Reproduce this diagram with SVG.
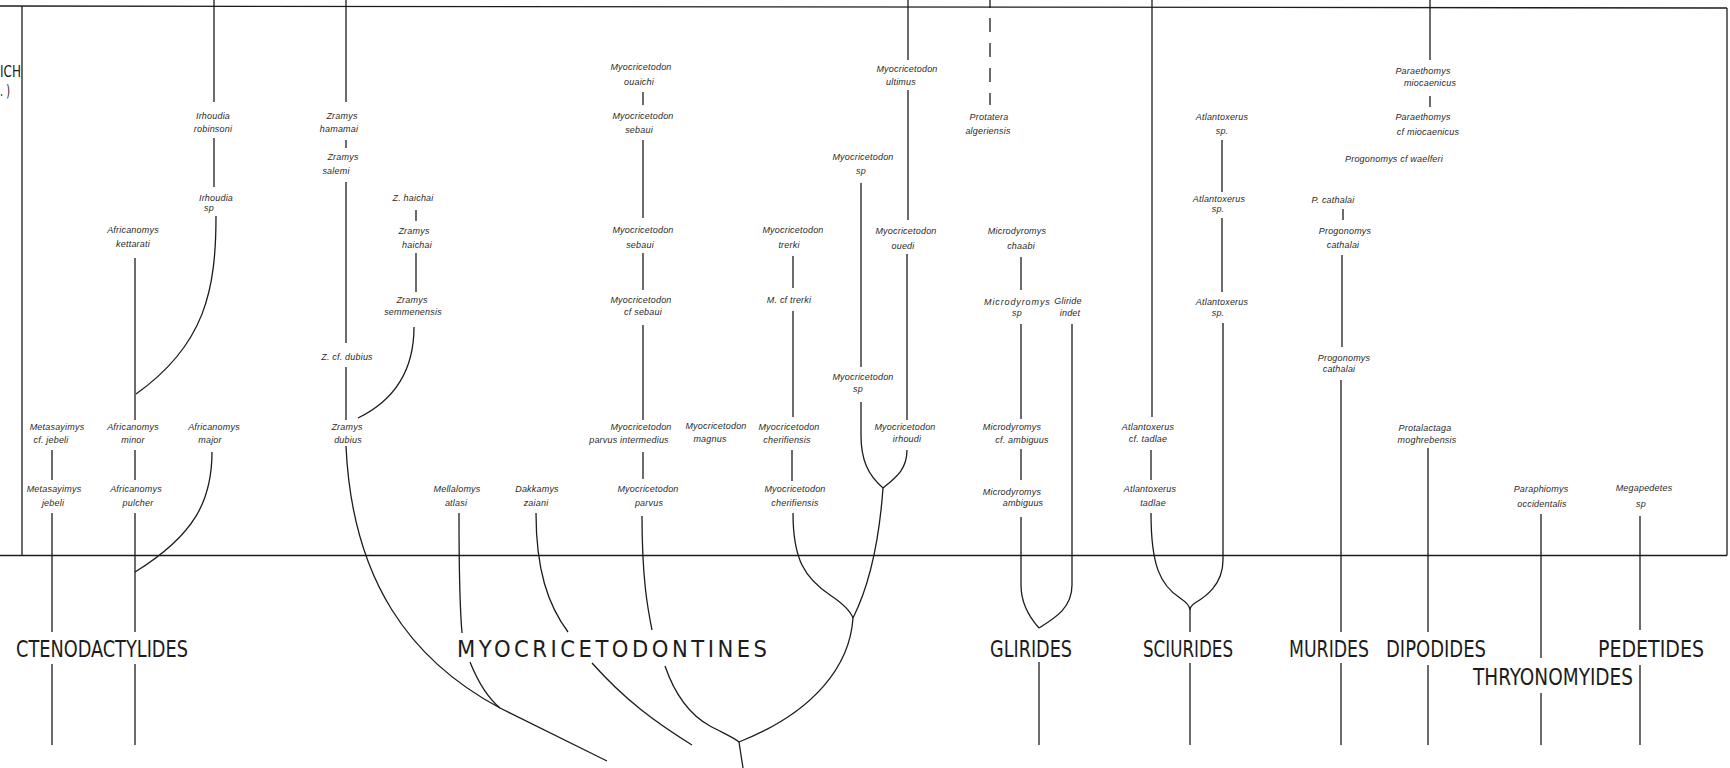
<svg xmlns="http://www.w3.org/2000/svg" width="1730" height="768" viewBox="0 0 1730 768">
<style>
.ln{fill:none;stroke:#1c1c1c;stroke-width:1.3;stroke-linecap:butt}
.dash{stroke-dasharray:14 11}
.sp{font-family:'Liberation Sans',Arial,sans-serif;font-style:italic;font-size:9px;fill:#2a2a2a;text-anchor:middle;letter-spacing:0.2px}
.fam{font-family:'Liberation Sans Narrow','DejaVu Sans Condensed','Liberation Sans',sans-serif;font-size:23.5px;fill:#1c1c1c}
.hd{font-family:'Liberation Sans Narrow','DejaVu Sans Condensed','Liberation Sans',sans-serif;font-size:15px;fill:#1c1c1c}
</style>
<rect width="1730" height="768" fill="#fff"/>
<g id="frame" class="ln">
<path d="M0,6 L1727,8"/>
<path d="M1727,8 V555.5"/>
<path d="M0,555.5 H1727"/>
<path d="M22,6 V555.5"/>
</g>
<g id="header">
<text class="hd" x="0" y="77" textLength="21" lengthAdjust="spacingAndGlyphs">ICH</text>
<text class="hd" x="0" y="96" textLength="10" lengthAdjust="spacingAndGlyphs">. )</text>
</g>
<g id="connectors" class="ln">
<!-- Ctenodactylides -->
<path d="M214,0 V102"/>
<path d="M214,138 V187"/>
<path d="M216,216 C216,290 205,345 136,394"/>
<path d="M135,258 V420"/>
<path d="M135,450 V480"/>
<path d="M135,513 V632"/>
<path d="M135,664 V745"/>
<path d="M212,452 C212,500 195,535 135,572"/>
<path d="M52,450 V480"/>
<path d="M52,513 V632"/>
<path d="M52,664 V745"/>
<!-- Zramys -->
<path d="M346,0 V102"/>
<path d="M346,140 V148"/>
<path d="M346,182 V343"/>
<path d="M346,367 V420"/>
<path d="M346,446 C352,580 410,660 500,708 L607,761"/>
<path d="M416,210 V221"/>
<path d="M416,253 V292"/>
<path d="M414,327 C414,370 395,400 358,418"/>
<!-- Mellalomys, Dakkamys -->
<path d="M459,513 C459,580 460,610 462,633"/>
<path d="M470,662 C478,682 488,698 500,708"/>
<path d="M536,513 C536,570 548,605 568,632"/>
<path d="M592,663 C625,700 655,722 692,745"/>
<!-- Myocricetodon main -->
<path d="M643,92 V105"/>
<path d="M643,140 V218"/>
<path d="M643,253 V290"/>
<path d="M643,325 V420"/>
<path d="M643,452 V479"/>
<path d="M642,516 C642,580 648,610 652,630"/>
<path d="M665,666 C675,695 690,715 710,726 C725,734 735,738 739,742"/>
<path d="M739,742 L743,768"/>
<!-- trerki / cherifiensis -->
<path d="M793,256 V288"/>
<path d="M793,311 V417"/>
<path d="M792,450 V481"/>
<path d="M793,513 C793,560 805,578 830,595 C842,603 850,610 853,618"/>
<!-- ultimus / sp / irhoudi -->
<path d="M908,0 V60"/>
<path d="M908,90 V220"/>
<path d="M907,254 V420"/>
<path d="M907,450 C907,470 895,478 883,488"/>
<path d="M861,183 V367"/>
<path d="M861,402 V435 C861,460 868,475 883,488"/>
<path d="M883,488 C880,530 872,580 853,618 C850,665 815,712 739,742"/>
<!-- Protatera -->
<path d="M990,0 V8"/>
<path class="dash" d="M990,18 V105"/>
<!-- Glirides -->
<path d="M1021,257 V290"/>
<path d="M1021,324 V419"/>
<path d="M1021,449 V480"/>
<path d="M1021,517 V585 C1021,605 1030,618 1039,628"/>
<path d="M1072,324 V585 C1072,608 1055,618 1039,628"/>
<path d="M1039,662 V745"/>
<!-- Sciurides -->
<path d="M1152,0 V417"/>
<path d="M1151,450 V480"/>
<path d="M1151,513 C1151,565 1160,585 1180,598 C1186,602 1190,606 1190,610"/>
<path d="M1222,140 V192"/>
<path d="M1222,218 V292"/>
<path d="M1223,323 V560 C1223,585 1205,597 1195,603 C1192,605 1190,607 1190,610"/>
<path d="M1190,610 V632"/>
<path d="M1190,663 V745"/>
<!-- Murides -->
<path d="M1430,0 V60"/>
<path d="M1430,96 V107"/>
<path d="M1343,209 V220"/>
<path d="M1342,255 V347"/>
<path d="M1341,380 V632"/>
<path d="M1341,663 V745"/>
<!-- Dipodides, Thryonomyides, Pedetides -->
<path d="M1428,448 V632"/>
<path d="M1428,665 V745"/>
<path d="M1541,514 V658"/>
<path d="M1541,693 V745"/>
<path d="M1640,516 V630"/>
<path d="M1640,665 V745"/>
</g>
<g id="n-irhoudia-robinsoni"><text class="sp" x="213" y="119">Irhoudia</text><text class="sp" x="213" y="132">robinsoni</text></g>
<g id="n-irhoudia-sp"><text class="sp" x="216" y="201">Irhoudia</text><text class="sp" x="209" y="211">sp</text></g>
<g id="n-africanomys-kettarati"><text class="sp" x="133" y="233">Africanomys</text><text class="sp" x="133" y="247">kettarati</text></g>
<g id="n-zramys-hamamai"><text class="sp" x="342" y="119">Zramys</text><text class="sp" x="339" y="132">hamamai</text></g>
<g id="n-zramys-salemi"><text class="sp" x="343" y="160">Zramys</text><text class="sp" x="336" y="174">salemi</text></g>
<g id="n-z-haichai"><text class="sp" x="413" y="201">Z. haichai</text></g>
<g id="n-zramys-haichai"><text class="sp" x="414" y="234">Zramys</text><text class="sp" x="417" y="248">haichai</text></g>
<g id="n-zramys-semmenensis"><text class="sp" x="412" y="303">Zramys</text><text class="sp" x="413" y="315">semmenensis</text></g>
<g id="n-z-cf-dubius"><text class="sp" x="347" y="360">Z. cf. dubius</text></g>
<g id="n-zramys-dubius"><text class="sp" x="347" y="430">Zramys</text><text class="sp" x="348" y="443">dubius</text></g>
<g id="n-metasayimys-cf-jebeli"><text class="sp" x="57" y="430">Metasayimys</text><text class="sp" x="51" y="443">cf. jebeli</text></g>
<g id="n-metasayimys-jebeli"><text class="sp" x="54" y="492">Metasayimys</text><text class="sp" x="53" y="506">jebeli</text></g>
<g id="n-africanomys-minor"><text class="sp" x="133" y="430">Africanomys</text><text class="sp" x="133" y="443">minor</text></g>
<g id="n-africanomys-pulcher"><text class="sp" x="136" y="492">Africanomys</text><text class="sp" x="138" y="506">pulcher</text></g>
<g id="n-africanomys-major"><text class="sp" x="214" y="430">Africanomys</text><text class="sp" x="210" y="443">major</text></g>
<g id="n-mellalomys-atlasi"><text class="sp" x="457" y="492">Mellalomys</text><text class="sp" x="456" y="506">atlasi</text></g>
<g id="n-dakkamys-zaiani"><text class="sp" x="537" y="492">Dakkamys</text><text class="sp" x="536" y="506">zaiani</text></g>
<g id="n-myo-ouaichi"><text class="sp" x="641" y="70">Myocricetodon</text><text class="sp" x="639" y="85">ouaichi</text></g>
<g id="n-myo-sebaui-1"><text class="sp" x="643" y="119">Myocricetodon</text><text class="sp" x="639" y="133">sebaui</text></g>
<g id="n-myo-sebaui-2"><text class="sp" x="643" y="233">Myocricetodon</text><text class="sp" x="640" y="248">sebaui</text></g>
<g id="n-myo-cf-sebaui"><text class="sp" x="641" y="303">Myocricetodon</text><text class="sp" x="643" y="315">cf sebaui</text></g>
<g id="n-myo-parvus-intermedius"><text class="sp" x="641" y="430">Myocricetodon</text><text class="sp" x="629" y="443">parvus intermedius</text></g>
<g id="n-myo-parvus"><text class="sp" x="648" y="492">Myocricetodon</text><text class="sp" x="649" y="506">parvus</text></g>
<g id="n-myo-magnus"><text class="sp" x="716" y="429">Myocricetodon</text><text class="sp" x="710" y="442">magnus</text></g>
<g id="n-myo-trerki"><text class="sp" x="793" y="233">Myocricetodon</text><text class="sp" x="789" y="248">trerki</text></g>
<g id="n-m-cf-trerki"><text class="sp" x="789" y="303">M. cf trerki</text></g>
<g id="n-myo-cherifiensis-1"><text class="sp" x="789" y="430">Myocricetodon</text><text class="sp" x="787" y="443">cherifiensis</text></g>
<g id="n-myo-cherifiensis-2"><text class="sp" x="795" y="492">Myocricetodon</text><text class="sp" x="795" y="506">cherifiensis</text></g>
<g id="n-myo-sp-1"><text class="sp" x="863" y="160">Myocricetodon</text><text class="sp" x="861" y="174">sp</text></g>
<g id="n-myo-sp-2"><text class="sp" x="863" y="380">Myocricetodon</text><text class="sp" x="858" y="392">sp</text></g>
<g id="n-myo-ultimus"><text class="sp" x="907" y="72">Myocricetodon</text><text class="sp" x="901" y="85">ultimus</text></g>
<g id="n-myo-ouedi"><text class="sp" x="906" y="234">Myocricetodon</text><text class="sp" x="903" y="249">ouedi</text></g>
<g id="n-myo-irhoudi"><text class="sp" x="905" y="430">Myocricetodon</text><text class="sp" x="907" y="442">irhoudi</text></g>
<g id="n-protatera"><text class="sp" x="989" y="120">Protatera</text><text class="sp" x="988" y="134">algeriensis</text></g>
<g id="n-microdyromys-chaabi"><text class="sp" x="1017" y="234">Microdyromys</text><text class="sp" x="1021" y="249">chaabi</text></g>
<g id="n-microdyromys-sp"><text class="sp" x="1017" y="305" textLength="66">Microdyromys</text><text class="sp" x="1017" y="316">sp</text></g>
<g id="n-gliride-indet"><text class="sp" x="1068" y="304">Gliride</text><text class="sp" x="1070" y="316">indet</text></g>
<g id="n-microdyromys-cf-ambiguus"><text class="sp" x="1012" y="430">Microdyromys</text><text class="sp" x="1022" y="443">cf. ambiguus</text></g>
<g id="n-microdyromys-ambiguus"><text class="sp" x="1012" y="495">Microdyromys</text><text class="sp" x="1023" y="506">ambiguus</text></g>
<g id="n-atlantoxerus-sp-1"><text class="sp" x="1222" y="120">Atlantoxerus</text><text class="sp" x="1222" y="134">sp.</text></g>
<g id="n-atlantoxerus-sp-2"><text class="sp" x="1219" y="202">Atlantoxerus</text><text class="sp" x="1218" y="212">sp.</text></g>
<g id="n-atlantoxerus-sp-3"><text class="sp" x="1222" y="305">Atlantoxerus</text><text class="sp" x="1218" y="316">sp.</text></g>
<g id="n-atlantoxerus-cf-tadlae"><text class="sp" x="1148" y="430">Atlantoxerus</text><text class="sp" x="1148" y="442">cf. tadlae</text></g>
<g id="n-atlantoxerus-tadlae"><text class="sp" x="1150" y="492">Atlantoxerus</text><text class="sp" x="1153" y="506">tadlae</text></g>
<g id="n-paraethomys-miocaenicus"><text class="sp" x="1423" y="74">Paraethomys</text><text class="sp" x="1430" y="86">miocaenicus</text></g>
<g id="n-paraethomys-cf-miocaenicus"><text class="sp" x="1423" y="120">Paraethomys</text><text class="sp" x="1428" y="135">cf miocaenicus</text></g>
<g id="n-progonomys-cf-waelferi"><text class="sp" x="1394" y="162">Progonomys cf waelferi</text></g>
<g id="n-p-cathalai"><text class="sp" x="1333" y="203">P. cathalai</text></g>
<g id="n-progonomys-cathalai-1"><text class="sp" x="1345" y="234">Progonomys</text><text class="sp" x="1343" y="248">cathalai</text></g>
<g id="n-progonomys-cathalai-2"><text class="sp" x="1344" y="361">Progonomys</text><text class="sp" x="1339" y="372">cathalai</text></g>
<g id="n-protalactaga"><text class="sp" x="1425" y="431">Protalactaga</text><text class="sp" x="1427" y="443">moghrebensis</text></g>
<g id="n-paraphiomys"><text class="sp" x="1541" y="492">Paraphiomys</text><text class="sp" x="1542" y="507">occidentalis</text></g>
<g id="n-megapedetes"><text class="sp" x="1644" y="491">Megapedetes</text><text class="sp" x="1641" y="507">sp</text></g>
<g id="families">
<text id="f-ctenodactylides" class="fam" x="16" y="657" textLength="172" lengthAdjust="spacingAndGlyphs">CTENODACTYLIDES</text>
<text id="f-myocricetodontines" class="fam" x="457" y="657" textLength="310" lengthAdjust="spacing">MYOCRICETODONTINES</text>
<text id="f-glirides" class="fam" x="990" y="657" textLength="82" lengthAdjust="spacingAndGlyphs">GLIRIDES</text>
<text id="f-sciurides" class="fam" x="1143" y="657" textLength="90" lengthAdjust="spacingAndGlyphs">SCIURIDES</text>
<text id="f-murides" class="fam" x="1289" y="657" textLength="80" lengthAdjust="spacingAndGlyphs">MURIDES</text>
<text id="f-dipodides" class="fam" x="1386" y="657" textLength="100" lengthAdjust="spacingAndGlyphs">DIPODIDES</text>
<text id="f-pedetides" class="fam" x="1598" y="657" textLength="106" lengthAdjust="spacingAndGlyphs">PEDETIDES</text>
<text id="f-thryonomyides" class="fam" x="1473" y="685" textLength="160" lengthAdjust="spacingAndGlyphs">THRYONOMYIDES</text>
</g>
</svg>
